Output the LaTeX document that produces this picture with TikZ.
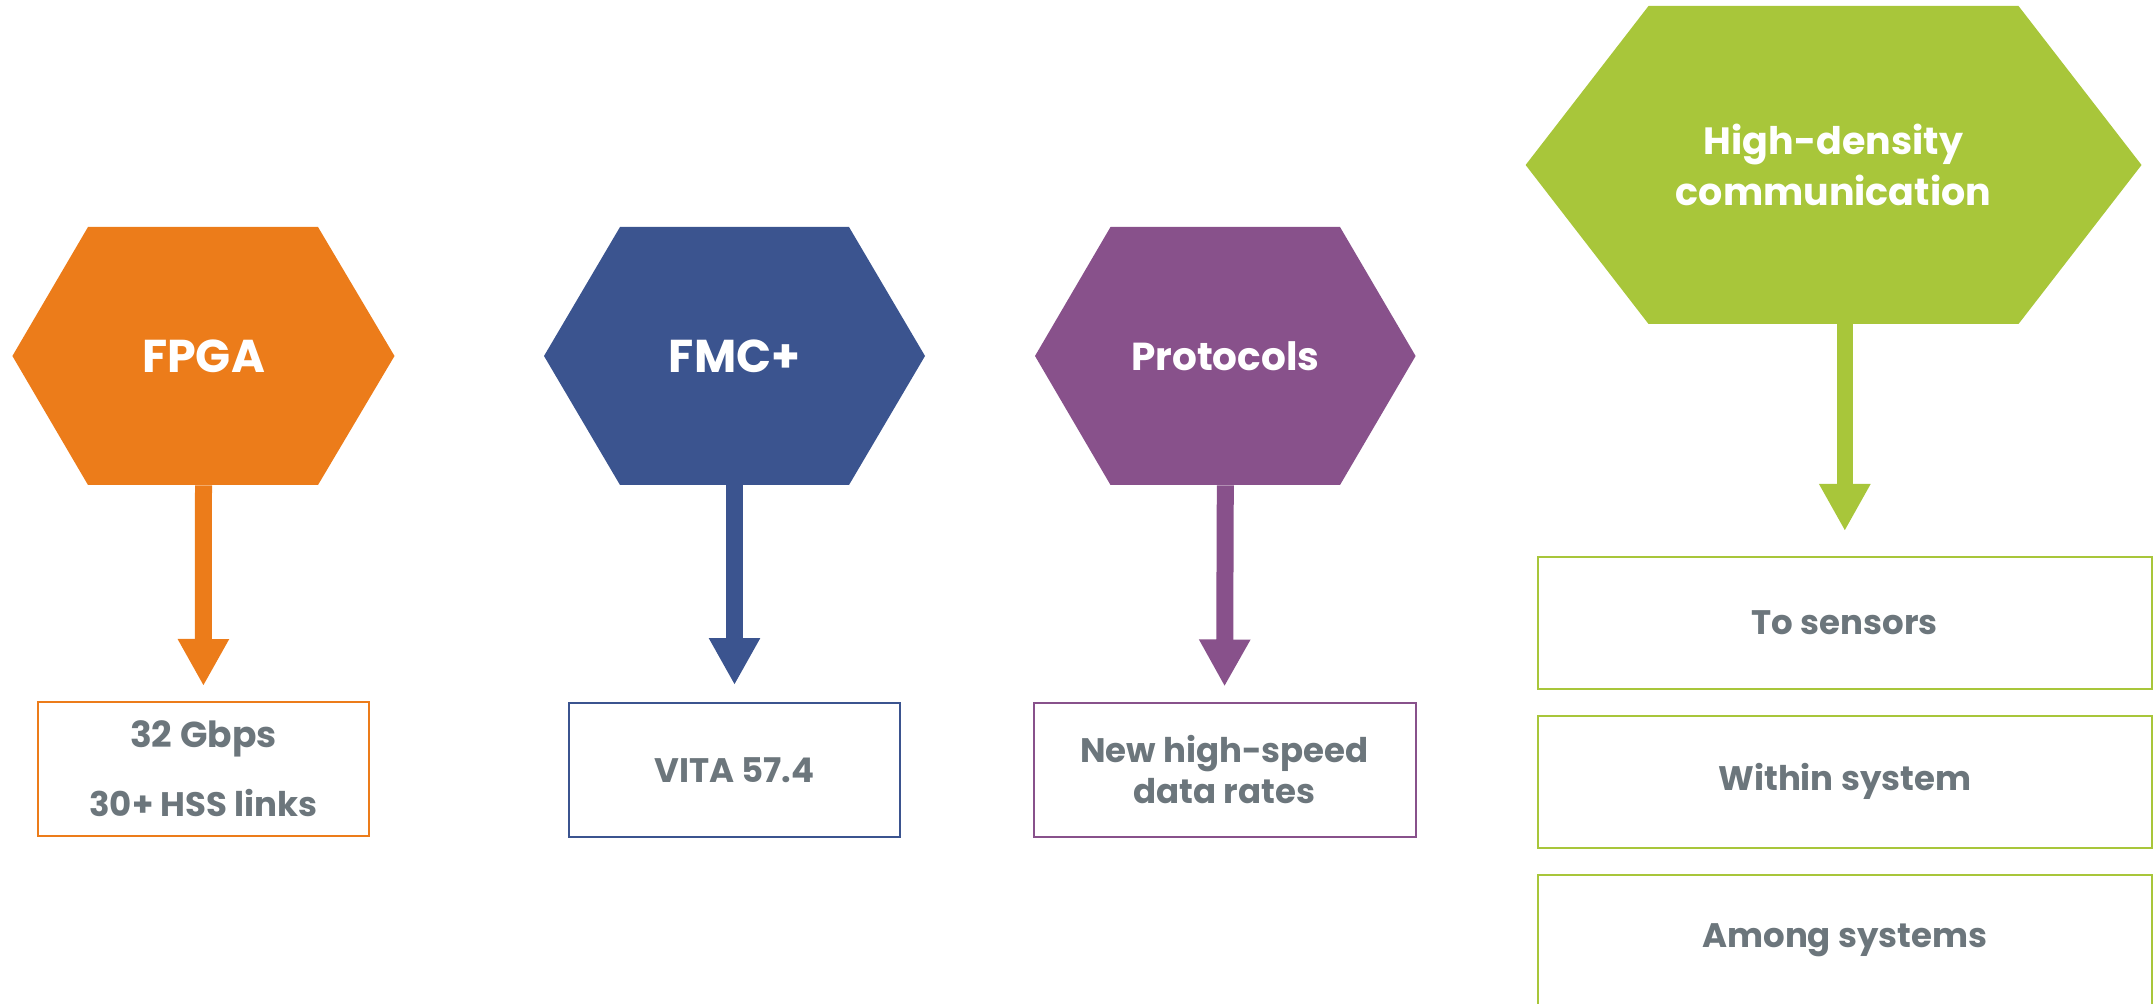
\documentclass[tikz,border=0pt]{standalone}
\usepackage{fontspec}
\setmainfont{Poppins}
\usetikzlibrary{arrows.meta,calc}
\definecolor{cOrange}{HTML}{EC7C1A}
\definecolor{cBlue}{HTML}{3B548F}
\definecolor{cPurple}{HTML}{88518B}
\definecolor{cGreen}{HTML}{A8C63A}
\definecolor{cGrey}{HTML}{6C767C}
\begin{document}
\begin{tikzpicture}[x=0.5pt,y=-0.5pt,
  hextext/.style={text=white, font=\bfseries\fontsize{23}{25.5}\selectfont, align=center, inner sep=0pt},
  infobox/.style={draw=#1, line width=1pt, text=cGrey, font=\bfseries\fontsize{17}{20.5}\selectfont, align=center, inner sep=0pt},
  blockarrow/.style={draw=#1, line width=8.5pt, -{Triangle[width=24pt,length=23.5pt]}}]
\useasboundingbox (0,0) rectangle (2155,1004);
\clip (0,0) rectangle (2155,1004);

% FPGA
\fill[cOrange] (12.4,356) -- (88,227) -- (318,227) -- (394.5,356) -- (318,485) -- (88,485) -- cycle;
\node[hextext, minimum height=129pt] (fpga) at (203.5,356) {FPGA};
\node[infobox=cOrange, minimum width=165.5pt, minimum height=67pt] (fpgabox) at (203.4,769) {\fontsize{18}{20.5}\selectfont 32 Gbps\\[14pt]30+ HSS links};
\draw[blockarrow=cOrange, shorten >=7.5pt] (fpga.south) -- (fpgabox.north);

% FMC+
\fill[cBlue] (544,356) -- (620,227) -- (849,227) -- (925,356) -- (849,485) -- (620,485) -- cycle;
\node[hextext, minimum height=129pt] (fmc) at (734.5,356) {FMC+};
\node[infobox=cBlue, minimum width=165.5pt, minimum height=67pt] (fmcbox) at (734.5,770) {VITA 57.4};
\draw[blockarrow=cBlue, shorten >=8.5pt] (fmc.south) -- (fmcbox.north);

% Protocols
\fill[cPurple] (1035,356) -- (1110.5,227) -- (1340,227) -- (1415.6,356) -- (1340,485) -- (1110.5,485) -- cycle;
\node[hextext, minimum height=129pt, font=\bfseries\fontsize{19.5}{25.5}\selectfont] (prot) at (1225.3,356) {Protocols};
\node[infobox=cPurple, minimum width=191pt, minimum height=67pt] (protbox) at (1224.5,769.5) {New high-speed\\data rates};
\draw[blockarrow=cPurple, shorten >=7.5pt] (prot.south) -- (protbox.north);

% High-density communication
\fill[cGreen] (1525.6,165) -- (1648.5,6) -- (2018.5,6) -- (2141.5,165) -- (2018.5,324) -- (1648.5,324) -- cycle;
\node[hextext, minimum height=159pt, font=\bfseries\fontsize{19}{25.5}\selectfont] (hd) at (1833.5,165) {High-density\\communication};
\node[infobox=cGreen, minimum width=307.2pt, minimum height=66pt] (s1) at (1844.8,623) {To sensors};
\node[infobox=cGreen, minimum width=307.2pt, minimum height=66pt] (s2) at (1844.8,781.5) {Within system};
\node[infobox=cGreen, minimum width=307.2pt, minimum height=66pt] (s3) at (1844.8,940.5) {Among systems};
\draw[blockarrow=cGreen, line width=8pt, shorten >=12.5pt] (hd.south -| s1.north) -- (s1.north);
\end{tikzpicture}
\end{document}
